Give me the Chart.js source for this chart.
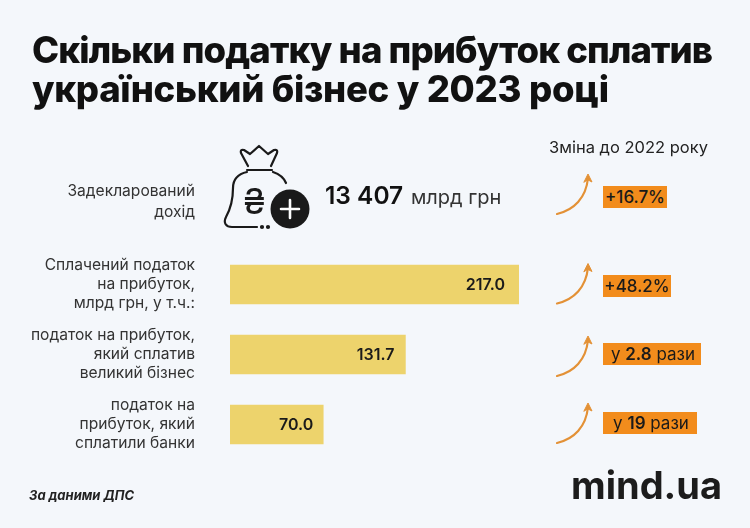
<!DOCTYPE html>
<html lang="uk">
<head>
<meta charset="utf-8">
<script src="https://cdn.jsdelivr.net/npm/chart.js@4"></script>
<style>
  html, body { margin: 0; padding: 0; background: #f4f7fb; }
  #page { position: relative; width: 750px; height: 528px; overflow: hidden; font-family: Inter, sans-serif; color: #1a1a1a; }
  #page > div, #page > h1, #page > svg, #page > canvas { position: absolute; }
  canvas { left: 0; top: 0; }
  svg { left: 0; top: 0; }
  h1 { margin: 0; left: 32px; top: 31px; font-size: 36.5px; line-height: 39px; font-weight: 800; color: #111; letter-spacing: -0.3px; white-space: nowrap; }
  h1 span { letter-spacing: -0.9px; }
  .change-head { left: 549px; top: 137px; font-size: 16.5px; line-height: 20px; color: #222; white-space: nowrap; }
  .row-label { right: 555px; top: 180px; font-size: 15.6px; line-height: 21px; text-align: right; color: #333; }
  .amount { left: 325px; top: 180px; font-size: 20px; line-height: 30px; color: #333; white-space: nowrap; }
  .amount b { font-size: 24.5px; font-weight: 600; color: #111; margin-right: 2px; }
  .badge { left: 603px; height: 22px; line-height: 22px; background: #f28c1c; font-size: 17px; font-weight: 500; text-align: center; color: #1a1a1a; white-space: nowrap; }
  .badge b { font-weight: 600; }
  .badge.wide { padding-left: 2px; box-sizing: border-box; font-weight: 400; }
  .source { left: 29px; top: 487px; font-size: 13px; line-height: 16px; font-weight: 700; font-style: italic; color: #222; white-space: nowrap; }
  .logo { left: 571px; top: 461px; font-size: 38px; line-height: 48px; font-weight: 700; color: #1c1c1c; white-space: nowrap; }
</style>
</head>
<body>
<div id="page">
  <canvas id="taxChart" width="750" height="528"></canvas>

  <h1><span>Скільки податку на прибуток сплатив</span><br>український бізнес у 2023 році</h1>
  <div class="change-head">Зміна до 2022 року</div>
  <div class="row-label" id="firstLabel"></div>
  <div class="amount" id="amount"></div>

  <svg width="750" height="528" fill="none" stroke="#1a1a1a" stroke-width="2.2" stroke-linecap="round" stroke-linejoin="round">
    <!-- money bag -->
    <path d="M248 166 L241 153 Q240 149 244 150 L250 154 L259 146 L268 154 L274 150 Q278 149 277 153 L271 166"/>
    <path d="M247 170 H272"/>
    <path d="M247 172 C238 174 233 179 233 188 C233 200 231 208 226 217 C223 223 226 227 232 227 H257"/>
    <path d="M273 172 C279 174 284 178 286 183"/>
    <circle cx="262" cy="227" r="1" fill="#1a1a1a"/>
    <circle cx="268" cy="227" r="1" fill="#1a1a1a"/>
    <text x="254.5" y="214" text-anchor="middle" font-family="Inter" font-size="36" fill="#1a1a1a" stroke="none">₴</text>
    <circle cx="290" cy="209" r="19.5" fill="#1a1a1a" stroke="none"/>
    <path d="M290 200 V218 M281 209 H299" stroke="#fff" stroke-width="2.6"/>
    <!-- arrows -->
    <g stroke="#e39136" stroke-width="2.2">
      <g id="arrow">
        <path d="M557 214 C574 210 586 198 588 178"/>
        <path d="M584 182 L588 174 L592 182 L588 180 Z" fill="#e39136" stroke-width="1"/>
      </g>
      <use href="#arrow" y="89.5"/>
      <use href="#arrow" y="162"/>
      <use href="#arrow" y="229"/>
    </g>
  </svg>

  <div class="badge" id="change0" style="top:186px;width:64px"></div>
  <div class="badge" id="change1" style="top:275px;width:68px"></div>
  <div class="badge wide" id="change2" style="top:343px;width:98px"></div>
  <div class="badge wide" id="change3" style="top:412px;width:94px"></div>

  <div class="source">За даними ДПС</div>
  <div class="logo">mind.ua</div>
</div>

<script>
const categories = [
  ["Задекларований", "дохід"],
  ["Сплачений податок", "на прибуток,", "млрд грн, у т.ч.:"],
  ["податок на прибуток,", "який сплатив", "великий бізнес"],
  ["податок на", "прибуток, який", "сплатили банки"],
];
const paidTax = [null, 217.0, 131.7, 70.0];
const declaredIncome = "13 407";
const changes = [
  "+16.7%",
  "+48.2%",
  "у <b>2.8</b> рази",
  "у <b>19</b> рази",
];

document.getElementById("firstLabel").innerHTML = categories[0].join("<br>");
document.getElementById("amount").innerHTML = `<b>${declaredIncome}</b> млрд грн`;
changes.forEach((text, i) => {
  document.getElementById("change" + i).innerHTML = text;
});

// Values inside the bar end
const barValues = {
  id: "barValues",
  afterDatasetsDraw(chart) {
    const insets = [0, 14, 11, 10];
    const ctx = chart.ctx;
    ctx.save();
    ctx.font = "600 16px Inter";
    ctx.fillStyle = "#1a1a1a";
    ctx.textAlign = "right";
    ctx.textBaseline = "middle";
    chart.getDatasetMeta(0).data.forEach((bar, i) => {
      if (paidTax[i] === null) return;
      ctx.fillText(paidTax[i].toFixed(1), bar.x - insets[i], bar.y + 1);
    });
    ctx.restore();
  },
};

new Chart(document.getElementById("taxChart"), {
  type: "bar",
  data: {
    labels: categories,
    datasets: [
      {
        data: paidTax,
        backgroundColor: "#edd36c",
        borderWidth: 0,
        barThickness: 39,
      },
    ],
  },
  options: {
    indexAxis: "y",
    responsive: false,
    animation: false,
    layout: { padding: { top: 179.5, bottom: 68.5, left: 0, right: 231 } },
    scales: {
      x: { display: false, min: 0, max: 217 },
      y: {
        afterFit(scale) {
          scale.width = 230;
        },
        grid: { display: false },
        border: { display: false },
        ticks: {
          padding: 27,
          color: "#333",
          autoSkip: false,
          font: { family: "Inter", size: 15.6, lineHeight: 1.22 },
          callback(value, index) {
            // the first row sits beside the icon, its label is placed apart
            return index === 0 ? "" : categories[index];
          },
        },
      },
    },
    plugins: {
      legend: { display: false },
      tooltip: { enabled: false },
    },
  },
  plugins: [barValues],
});
</script>
</body>
</html>
